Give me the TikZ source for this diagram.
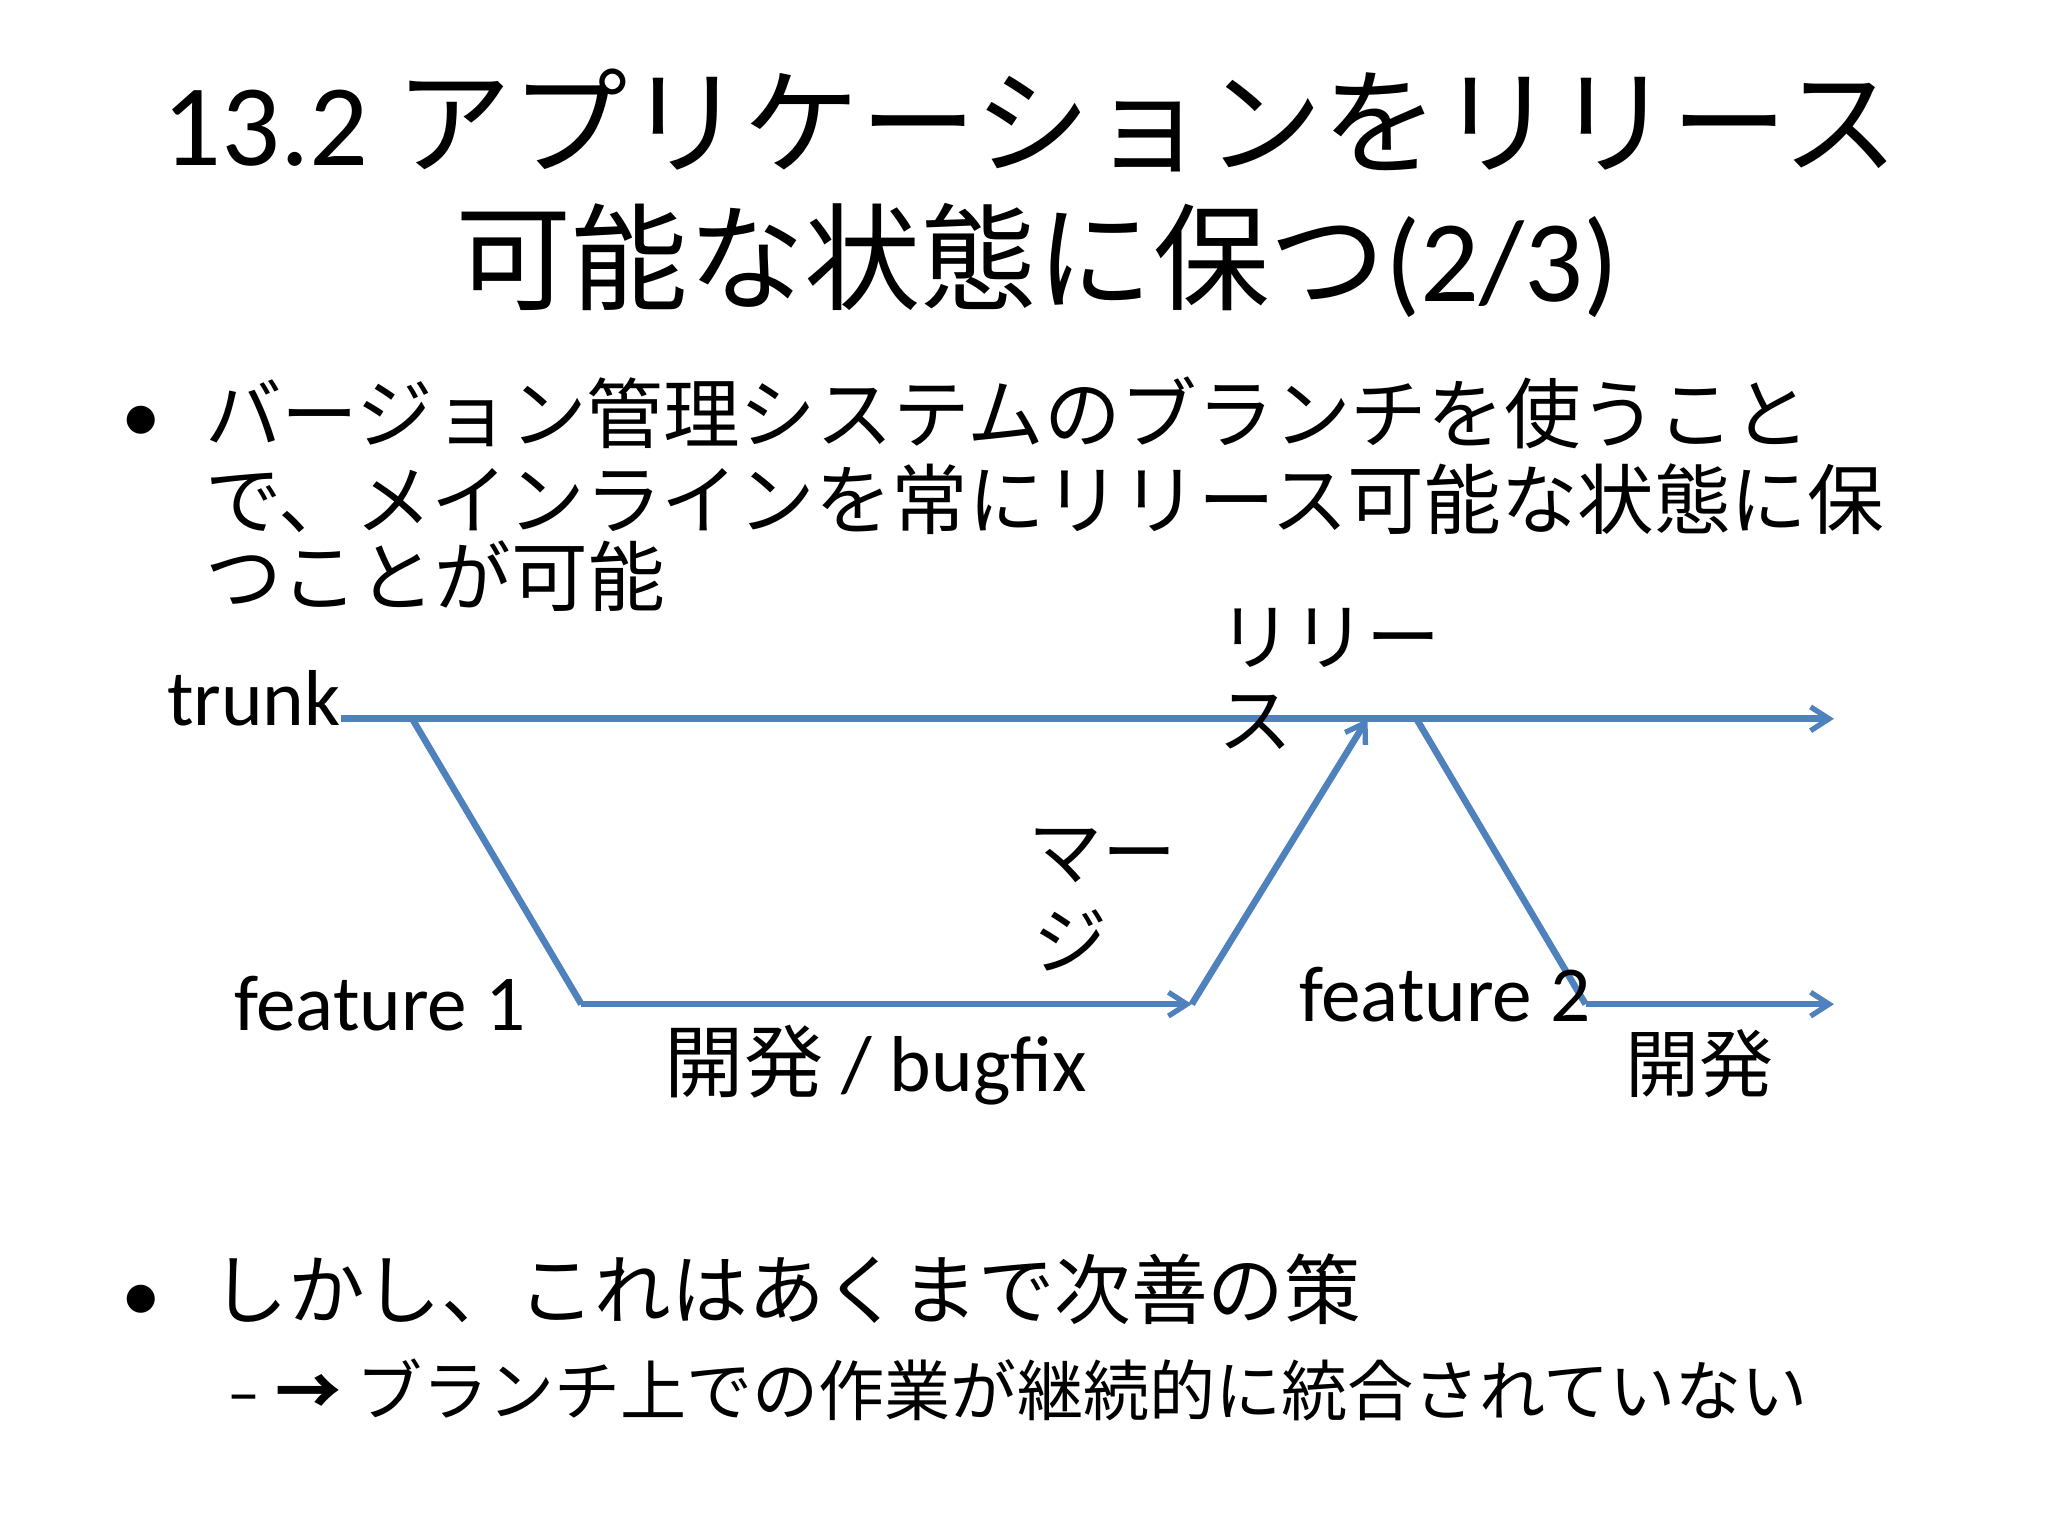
\documentclass[tikz,border=0pt]{standalone}
\usepackage{fontspec}
\setmainfont{Carlito}
\newfontfamily\jp{Noto Sans CJK JP}
\usetikzlibrary{arrows.meta}
\definecolor{br}{HTML}{4F81BD}
\begin{document}
\begin{tikzpicture}[x=1pt,y=-1pt,
  lbl/.style={inner sep=0pt,anchor=base west,font=\fontsize{60}{66}\selectfont},
  jl/.style={inner sep=0pt,anchor=base west,font=\fontsize{56}{60}\selectfont\jp},
  bt/.style={inner sep=0pt,anchor=base west,align=left,font=\fontsize{58}{64}\selectfont\jp},
  br/.style={draw=br,line width=5pt},
  ar/.style={br,-{Straight Barb[length=14pt,width=18pt,line width=4pt]}}]
\useasboundingbox (0,0) rectangle (1550,1162);
\node[inner sep=0pt,anchor=base] (t1) at (780,125) {\fontsize{88}{96}\selectfont 13.2 {\jp アプリケーションをリリース}};
\node[inner sep=0pt,anchor=base] (t2) at (785,228) {\fontsize{88}{96}\selectfont{\jp 可能な状態に保つ}(2/3)};
\node[lbl] (b1) at (92,335) {•};
\node[bt] (p1) at (155,335) {バージョン管理システムのブランチを使うこと};
\node[bt] (p2) at (155,400) {で、メインラインを常にリリース可能な状態に保};
\node[bt] (p3) at (155,458) {つことが可能};
% diagram
\coordinate (ts) at (258,544);
\coordinate (te) at (1388,544);
\coordinate (a1) at (312,544);
\coordinate (a2) at (440,760);
\coordinate (a3) at (902,760);
\coordinate (m) at (1035,544);
\coordinate (c1) at (1072,544);
\coordinate (c2) at (1200,760);
\coordinate (c3) at (1388,760);
\draw[ar] (ts) -- (te);
\draw[br] (a1) -- (a2);
\draw[ar] (a2) -- (a3);
\draw[ar] (a3) -- (m);
\draw[br] (c1) -- (c2);
\draw[ar] (c2) -- (c3);
\node[lbl,anchor=base east] (trunk) at (258,549) {trunk};
\node[lbl] (f1) at (177,780) {feature 1};
\node[lbl] (dev1) at (503,826) {{\jp 開発} / bugfix};
\node[jl] (mg1) at (778,666) {マー};
\node[jl] (mg2) at (782,733) {ジ};
\node[jl] (rl1) at (922,503) {リリー};
\node[jl] (rl2) at (922,566) {ス};
\node[lbl] (f2) at (983,773) {feature 2};
\node[jl] (dev2) at (1230,826) {開発};
\node[lbl] (b2) at (92,1000) {•};
\node[bt] (q1) at (160,998) {しかし、これはあくまで次善の策};
\node[inner sep=0pt,anchor=base west,font=\fontsize{50}{56}\selectfont] (q2) at (172,1071) {– {\jp\bfseries →} {\jp ブランチ上での作業が継続的に統合されていない}};
\end{tikzpicture}
\end{document}
